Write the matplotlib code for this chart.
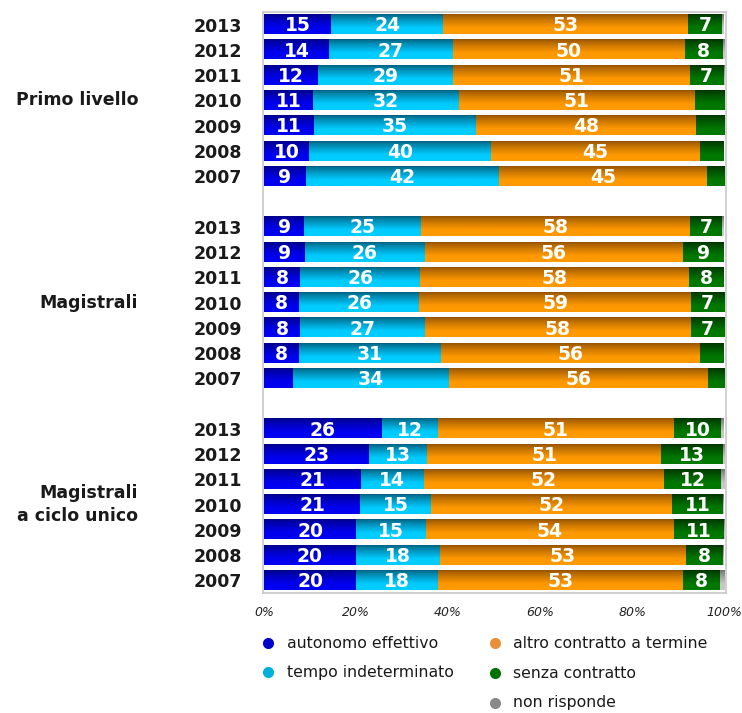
import numpy as np
import matplotlib
matplotlib.use('Agg')
import matplotlib.pyplot as plt
from matplotlib.colors import to_rgb
from matplotlib.lines import Line2D
from matplotlib.transforms import blended_transform_factory

plt.rcParams['font.family'] = ['DejaVu Sans']

groups = ['Primo livello', 'Magistrali', 'Magistrali\na ciclo unico']
years = ['2013', '2012', '2011', '2010', '2009', '2008', '2007']
categories = ['autonomo effettivo', 'tempo indeterminato',
              'altro contratto a termine', 'senza contratto', 'non risponde']

primo_autonomo = [14.6, 14.1, 11.8, 10.6, 10.9, 9.8, 9.1]
primo_tempo = [24.4, 27.0, 29.3, 31.8, 35.2, 39.6, 42.0]
primo_altro = [53.2, 50.4, 51.4, 51.2, 47.8, 45.4, 45.2]
primo_senza = [7.4, 8.2, 7.4, 6.4, 6.1, 5.2, 3.7]
primo_nonr = [0.4, 0.3, 0.1, 0.0, 0.0, 0.0, 0.0]

mag_autonomo = [8.8, 8.9, 7.9, 7.6, 7.8, 7.6, 6.3]
mag_tempo = [25.4, 26.1, 26.1, 26.2, 27.2, 30.8, 33.9]
mag_altro = [58.4, 56.1, 58.4, 59.0, 57.8, 56.4, 56.3]
mag_senza = [7.0, 8.9, 7.6, 7.2, 7.2, 5.2, 3.5]
mag_nonr = [0.4, 0.0, 0.0, 0.0, 0.0, 0.0, 0.0]

ciclo_autonomo = [25.6, 22.8, 21.1, 20.9, 20.0, 19.9, 20.0]
ciclo_tempo = [12.2, 12.6, 13.6, 15.4, 15.2, 18.4, 17.8]
ciclo_altro = [51.3, 51.0, 52.3, 52.4, 53.9, 53.4, 53.3]
ciclo_senza = [10.3, 13.3, 12.3, 11.1, 10.8, 8.1, 8.0]
ciclo_nonr = [0.6, 0.3, 0.7, 0.2, 0.1, 0.2, 0.9]

group_data = [
    [primo_autonomo, primo_tempo, primo_altro, primo_senza, primo_nonr],
    [mag_autonomo, mag_tempo, mag_altro, mag_senza, mag_nonr],
    [ciclo_autonomo, ciclo_tempo, ciclo_altro, ciclo_senza, ciclo_nonr],
]

# (top colour, bottom colour) for the vertical gradient of each category
grad_colors = [
    ('#00008a', '#0000f0'),
    ('#005f7e', '#00ccff'),
    ('#935300', '#ff9900'),
    ('#003400', '#007800'),
    ('#707070', '#c8c8c8'),
]
legend_colors = ['#0000c8', '#00b0d8', '#e8903a', '#007000', '#8a8a8a']

fig = plt.figure(figsize=(7.42, 7.13), dpi=100)
ax = fig.add_axes([263 / 742, 1 - 593 / 713, 463 / 742, 581 / 713])

n_slots = 23
bar_h = 0.76
ytick_pos, ytick_lab = [], []
group_centers = []

def gradient_img(top, bottom, n=60):
    t = np.linspace(0, 1, n)
    f = np.clip(t / 0.7, 0, 1)
    f = f ** 0.8
    c0, c1 = np.array(to_rgb(top)), np.array(to_rgb(bottom))
    img = c0[None, :] + (c1 - c0)[None, :] * f[:, None]
    return img[:, None, :]

for g, data in enumerate(group_data):
    start = g * 8
    ys = np.array([n_slots - 1 - (start + i) for i in range(len(years))], dtype=float)
    ytick_pos.extend(ys)
    ytick_lab.extend(years)
    group_centers.append(ys[3])
    left = np.zeros(len(years))
    for c, vals in enumerate(data):
        vals = np.array(vals)
        bars = ax.barh(ys, vals, left=left, height=bar_h,
                       color=grad_colors[c][1], linewidth=0, zorder=2)
        img = gradient_img(*grad_colors[c])
        for rect, v in zip(bars.patches, vals):
            if v <= 0:
                continue
            x0, y0 = rect.get_x(), rect.get_y()
            w, h = rect.get_width(), rect.get_height()
            ax.imshow(img, extent=(x0, x0 + w, y0, y0 + h), origin='upper',
                      aspect='auto', interpolation='bilinear', zorder=3)
            lab = int(np.floor(v + 0.5))
            if c < 4 and lab >= 7:
                ax.text(x0 + w / 2, y0 + h / 2 - 0.05, str(lab), ha='center',
                        va='center', color='white', fontsize=13.5,
                        fontweight='bold', zorder=4)
        left += vals

ax.set_xlim(-0.22, 100.43)
ax.set_ylim(-0.5, n_slots - 0.5)
ax.set_xticks([0, 20, 40, 60, 80, 100])
ax.set_xticklabels(['0%', '20%', '40%', '60%', '80%', '100%'],
                   fontsize=9, fontstyle='italic', color='#222222')
ax.set_yticks(ytick_pos)
ax.set_yticklabels(ytick_lab, fontsize=12.5, fontweight='bold', color='#1a1a1a')
ax.tick_params(axis='both', length=0)
ax.tick_params(axis='x', pad=9)
ax.tick_params(axis='y', pad=15)
for s in ax.spines.values():
    s.set_color('#c8c8c8')
    s.set_linewidth(1.2)

tr = blended_transform_factory(fig.transFigure, ax.transData)
for name, yc in zip(groups, group_centers):
    ax.text(138 / 742, yc, name, transform=tr, ha='right', va='center',
            fontsize=12.5, fontweight='bold', color='#1a1a1a',
            multialignment='right', linespacing=1.35)

# legend (manual placement, two columns)
leg_pos = [(268, 287, 643), (268, 287, 672), (495, 513, 643),
           (495, 513, 673), (495, 513, 703)]
for (mx, tx, py), name, col in zip(leg_pos, categories, legend_colors):
    fig.add_artist(Line2D([mx / 742], [1 - py / 713], marker='o', markersize=8,
                          color=col, markeredgewidth=0, linestyle='none',
                          transform=fig.transFigure))
    fig.text(tx / 742, 1 - py / 713, name, ha='left', va='center',
             fontsize=11.3, color='#1a1a1a')

fig.savefig('out.png', dpi=100)
